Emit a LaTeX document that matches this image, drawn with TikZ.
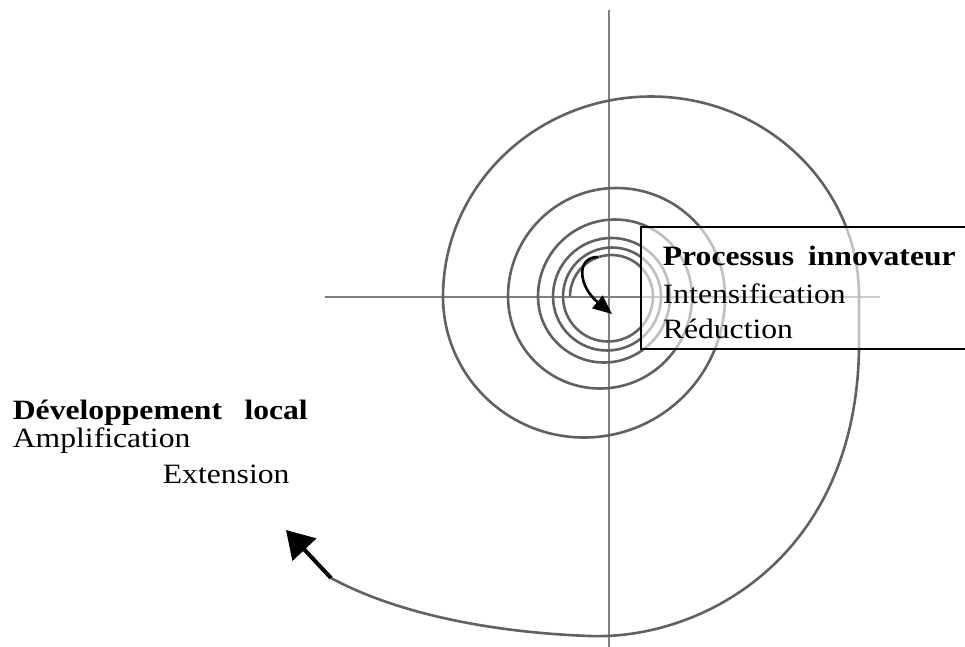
\documentclass[tikz,border=0pt]{standalone}
\usepackage{fontspec}
\setmainfont{Liberation Serif}
\usepackage{graphicx}
\usetikzlibrary{arrows.meta}
\begin{document}
\begin{tikzpicture}[x=1pt,y=-1pt,
  axisline/.style={draw=black!50, line width=2pt},
  spiralline/.style={draw=black!62, line width=2.6pt},
  blackarrow/.style={draw=black, fill=black},
  labelbox/.style={draw=black, line width=1.6pt, fill=white, fill opacity=0.6},
  lbl/.style={anchor=base west, inner sep=0pt, font=\fontsize{28}{34}\selectfont}]
\useasboundingbox (0,0) rectangle (965,646);
% axes
\draw[axisline] (609,10) -- (609,650);
\draw[axisline] (325,296.5) -- (880,296.5);
% spiral
\draw[spiralline] (570,296.5)
  arc[start angle=180, end angle=360, radius=41.5]
  arc[start angle=0, end angle=180, radius=45]
  arc[start angle=180, end angle=360, radius=49]
  arc[start angle=0, end angle=180, radius=54]
  arc[start angle=180, end angle=360, radius=58.5]
  arc[start angle=0, end angle=180, radius=66]
  arc[start angle=180, end angle=360, radius=77]
  arc[start angle=0, end angle=180, radius=92]
  arc[start angle=180, end angle=360, radius=108.5]
  arc[start angle=0, end angle=180, radius=141]
  arc[start angle=180, end angle=360, x radius=208, y radius=200]
  -- (859,350)
  .. controls (855,560) and (700,640) .. (590,636)
  .. controls (480,632) and (390,610) .. coordinate[pos=1] (spend) (331,578);
% outer arrow
\coordinate (outtip) at (286,530);
\draw[blackarrow, line width=4pt, -{Triangle[length=27pt,width=32pt]}] (spend) -- (outtip);
% inner arrow
\coordinate (instart) at (598,257);
\coordinate (intip) at (612,314);
\draw[black, line width=2.6pt, -{Triangle[length=19pt,width=16pt]}] (instart) .. controls (576,257) and (578,286) .. (intip);
% box
\draw[labelbox] (640.7,227) rectangle (990,349);
\node[lbl] (proc) at (662.7,265) {\scalebox{1.13}[1]{\bfseries Processus\hspace{0.44em}innovateur}};
\node[lbl] (inten) at (662.7,303) {\scalebox{1.13}[1]{Intensification}};
\node[lbl] (reduc) at (662.7,338) {\scalebox{1.13}[1]{Réduction}};
% left texts
\node[lbl] (dev) at (12.7,419.5) {\scalebox{1.13}[1]{\bfseries Développement\hspace{0.71em}local}};
\node[lbl] (ampl) at (12.7,447) {\scalebox{1.13}[1]{Amplification}};
\node[lbl] (ext) at (162.7,483) {\scalebox{1.13}[1]{Extension}};
\end{tikzpicture}
\end{document}
